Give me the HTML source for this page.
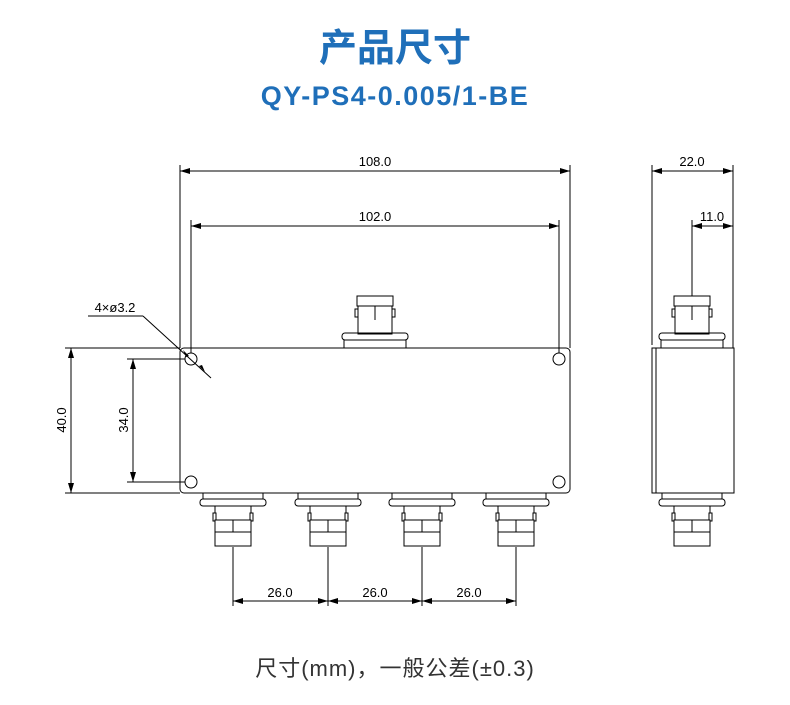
<!DOCTYPE html>
<html><head><meta charset="utf-8"><style>
body{margin:0;background:#fff;width:790px;height:705px;overflow:hidden}
svg{display:block}
.t{font-family:"Liberation Sans","Noto Sans CJK SC",sans-serif}
</style></head><body>
<svg width="790" height="705" viewBox="0 0 790 705" xmlns="http://www.w3.org/2000/svg">
<defs>
<marker id="a" viewBox="0 0 10 6" refX="10" refY="3" markerWidth="10" markerHeight="6" orient="auto-start-reverse" markerUnits="userSpaceOnUse"><path d="M0,0L10,3L0,6z" fill="#000"/></marker>
<g id="conB" fill="#fff" stroke="#000" stroke-width="1">
<rect x="-30" y="0" width="60" height="6"/>
<rect x="-33" y="6" width="66" height="7" rx="3"/>
<rect x="-18" y="13" width="36" height="14"/>
<rect x="-20" y="20" width="3" height="8"/><rect x="17" y="20" width="3" height="8"/>
<rect x="-18" y="27" width="36" height="12"/>
<line x1="0" y1="27" x2="0" y2="39"/>
<rect x="-18" y="39" width="36" height="14"/>
</g>
</defs>
<text class="t" x="395" y="61" text-anchor="middle" font-size="38" font-weight="bold" fill="#1f6fb9">产品尺寸</text>
<text class="t" x="395" y="105" text-anchor="middle" font-size="27" font-weight="bold" fill="#1f6fb9" letter-spacing="1.5">QY-PS4-0.005/1-BE</text>

<g stroke="#000" stroke-width="1" fill="none">
<rect x="180" y="348" width="390" height="145" rx="4" fill="#fff"/>
<circle cx="191" cy="359" r="6"/><circle cx="559" cy="359" r="6"/>
<circle cx="191" cy="482" r="6"/><circle cx="559" cy="482" r="6"/>
<rect x="357" y="296" width="36" height="10"/>
<rect x="358" y="306" width="34" height="28"/>
<line x1="375" y1="306" x2="375" y2="320"/>
<rect x="355" y="309" width="3" height="8"/><rect x="392" y="309" width="3" height="8"/>
<rect x="342" y="333" width="66" height="7" rx="3"/>
<rect x="344" y="340" width="62" height="8"/>
<line x1="180" y1="165" x2="180" y2="348"/><line x1="570" y1="165" x2="570" y2="348"/>
<line x1="180" y1="171" x2="570" y2="171" marker-start="url(#a)" marker-end="url(#a)"/>
<line x1="191" y1="220" x2="191" y2="353"/><line x1="559" y1="220" x2="559" y2="353"/>
<line x1="191" y1="226" x2="559" y2="226" marker-start="url(#a)" marker-end="url(#a)"/>
<line x1="65" y1="348" x2="180" y2="348"/><line x1="65" y1="493" x2="180" y2="493"/>
<line x1="71" y1="348" x2="71" y2="493" marker-start="url(#a)" marker-end="url(#a)"/>
<line x1="127" y1="359" x2="185" y2="359"/><line x1="127" y1="482" x2="185" y2="482"/>
<line x1="133" y1="359" x2="133" y2="482" marker-start="url(#a)" marker-end="url(#a)"/>
<line x1="88" y1="316" x2="143" y2="316"/>
<line x1="143" y1="316" x2="211" y2="378"/>
<line x1="233" y1="547" x2="233" y2="606"/><line x1="328" y1="547" x2="328" y2="606"/>
<line x1="422" y1="547" x2="422" y2="606"/><line x1="516" y1="547" x2="516" y2="606"/>
<line x1="233" y1="601" x2="328" y2="601" marker-start="url(#a)" marker-end="url(#a)"/>
<line x1="328" y1="601" x2="422" y2="601" marker-start="url(#a)" marker-end="url(#a)"/>
<line x1="422" y1="601" x2="516" y2="601" marker-start="url(#a)" marker-end="url(#a)"/>
<rect x="652" y="348" width="82" height="145" fill="#fff"/>
<line x1="656" y1="348" x2="656" y2="493"/>
<rect x="674" y="296" width="36" height="10"/>
<rect x="675" y="306" width="34" height="28"/>
<line x1="692" y1="306" x2="692" y2="320"/>
<rect x="672" y="309" width="3" height="8"/><rect x="709" y="309" width="3" height="8"/>
<rect x="659" y="333" width="66" height="7" rx="3"/>
<rect x="661" y="340" width="62" height="8"/>
<line x1="652" y1="165" x2="652" y2="345"/><line x1="733" y1="165" x2="733" y2="348"/>
<line x1="652" y1="171" x2="733" y2="171" marker-start="url(#a)" marker-end="url(#a)"/>
<line x1="692" y1="220" x2="692" y2="296"/>
<line x1="692" y1="226" x2="733" y2="226" marker-start="url(#a)" marker-end="url(#a)"/>
</g>
<use href="#conB" x="233" y="493"/><use href="#conB" x="328" y="493"/>
<use href="#conB" x="422" y="493"/><use href="#conB" x="516" y="493"/>
<use href="#conB" x="692" y="493"/>
<path d="M183,350l6,6l-3,1z M205,372l-6,-6l3,-1z" fill="#000"/>

<g class="t" font-size="13" fill="#000" text-anchor="middle">
<text x="375" y="166">108.0</text>
<text x="375" y="221">102.0</text>
<text x="692" y="166">22.0</text>
<text x="712" y="221">11.0</text>
<text x="280" y="597">26.0</text>
<text x="375" y="597">26.0</text>
<text x="469" y="597">26.0</text>
<text x="115" y="312">4×ø3.2</text>
<text transform="translate(66,420) rotate(-90)">40.0</text>
<text transform="translate(128,420) rotate(-90)">34.0</text>
</g>
<text class="t" x="395" y="676" text-anchor="middle" font-size="22" fill="#333" letter-spacing="1">尺寸(mm)，一般公差(±0.3)</text>
</svg>
</body></html>
